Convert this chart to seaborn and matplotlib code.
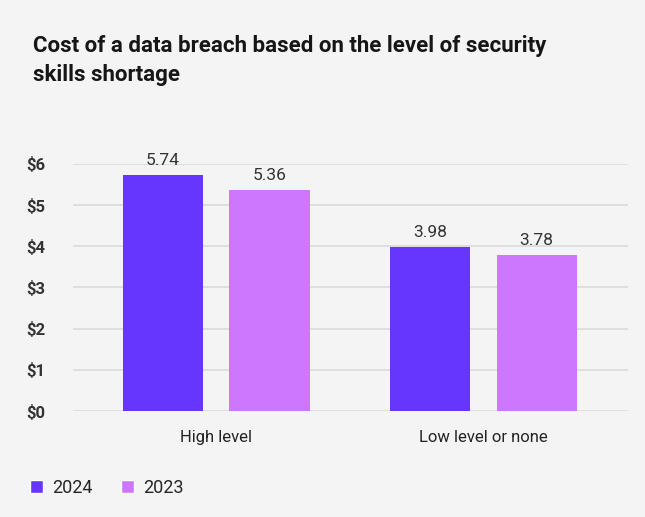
import matplotlib
matplotlib.use("Agg")
import matplotlib.pyplot as plt
import pandas as pd
import seaborn as sns
from matplotlib.patches import Patch

categories = ["High level", "Low level or none"]
years = ["2024", "2023"]
values_2024 = [5.74, 3.98]
values_2023 = [5.36, 3.78]
y_ticks = [0, 1, 2, 3, 4, 5, 6]
y_tick_labels = ["$0", "$1", "$2", "$3", "$4", "$5", "$6"]
colors = {"2024": "#6636ff", "2023": "#cd77ff"}

df = pd.DataFrame({
    "category": categories * 2,
    "year": [years[0]] * 2 + [years[1]] * 2,
    "cost": values_2024 + values_2023,
})

sns.set_theme(style="white")
plt.rcParams["font.family"] = ["Roboto", "DejaVu Sans"]
bg = "#f4f4f4"

fig = plt.figure(figsize=(6.45, 5.17), dpi=100, facecolor=bg)
ax = fig.add_axes([0.113, 0.205, 0.861, 0.478], facecolor=bg)

sns.barplot(data=df, x="category", y="cost", hue="year", hue_order=years,
            palette=colors, width=0.8, gap=0.25, ax=ax, legend=False,
            saturation=1, linewidth=0, zorder=3)

for container in ax.containers:
    ax.bar_label(container, fmt="%.2f", padding=5, fontsize=12.5, color="#333333")

ax.set_ylim(0, 6)
ax.set_xlim(-0.536, 1.543)
ax.set_yticks(y_ticks)
ax.set_yticklabels(y_tick_labels, fontsize=12, fontweight="bold", color="#333333")
ax.tick_params(axis="y", pad=20, length=0)
ax.tick_params(axis="x", pad=14, length=0, labelsize=12, labelcolor="#222222")
ax.grid(axis="y", color="#dcdcdc", linewidth=1.3, zorder=0)
ax.set_axisbelow(True)
for s in ax.spines.values():
    s.set_visible(False)
ax.set_xlabel("")
ax.set_ylabel("")

fig.text(0.051, 0.933, "Cost of a data breach based on the level of security\nskills shortage",
         fontsize=16, fontweight="bold", color="#161616", va="top", linespacing=1.45)

handles = [Patch(facecolor=colors[y], label=y) for y in years]
fig.legend(handles=handles, loc="lower left", bbox_to_anchor=(0.022, 0.008), ncol=2,
           frameon=False, fontsize=13, handlelength=0.7, handleheight=0.7,
           handletextpad=0.5, columnspacing=1.6)

fig.savefig("out.png", dpi=100, facecolor=bg)
